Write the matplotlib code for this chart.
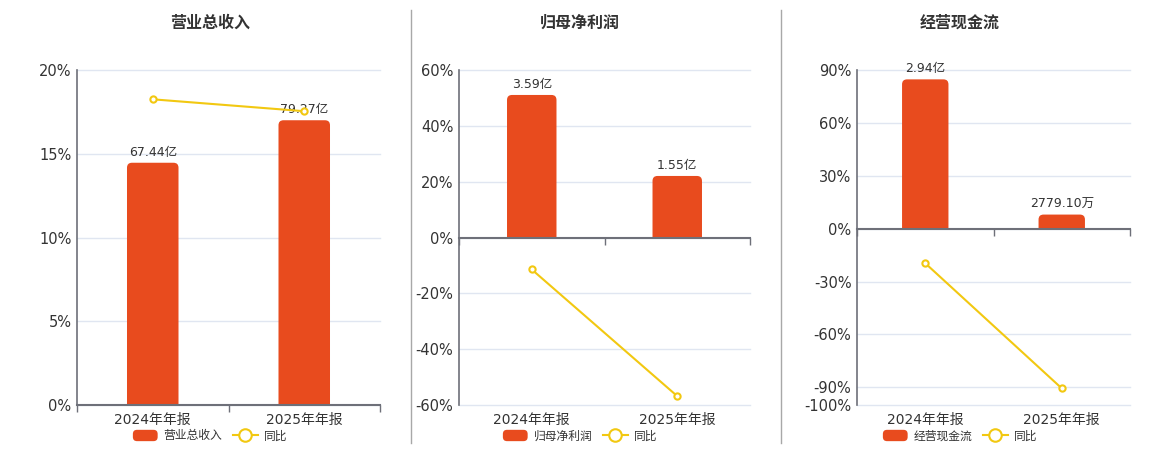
import matplotlib
matplotlib.use("Agg")
import matplotlib.pyplot as plt
from matplotlib.patches import FancyBboxPatch, Rectangle, Patch
from matplotlib.lines import Line2D
from matplotlib.legend_handler import HandlerPatch
import numpy as np

plt.rcParams["font.family"] = ["DejaVu Sans", "Noto Sans CJK SC"]

# ---- data ----
periods = ["2024年年报", "2025年年报"]
titles = ["营业总收入", "归母净利润", "经营现金流"]
bar_values = [[67.44, 79.27], [3.59, 1.55], [2.94, 0.2779]]  # 亿
bar_labels = [["67.44亿", "79.27亿"], ["3.59亿", "1.55亿"], ["2.94亿", "2779.10万"]]
yoy = [[18.25, 17.54], [-11.45, -56.82], [-19.6, -90.55]]  # %
yoy_label = "同比"
y_ticks = [
    [0, 5, 10, 15, 20],
    [-60, -40, -20, 0, 20, 40, 60],
    [-100, -90, -60, -30, 0, 30, 60, 90],
]

# ---- style ----
BAR_COLOR = "#E84B1E"
LINE_COLOR = "#F2C811"
TEXT = "#333333"
AXIS = "#6E7079"
GRID = "#E0E6F1"
W, H = 1160, 450
axes_px = [(77, 380), (459, 750), (857, 1130)]  # left/right in pixels
top_px, bottom_px = 70, 405
centers_px = [210, 580, 960]
bar_fill = [0.85, 0.851, 0.941]  # fraction of positive axis the tallest bar reaches
bar_width = 0.34
radius_px = 5

fig = plt.figure(figsize=(W / 100, H / 100), dpi=100)


class RoundPatchHandler(HandlerPatch):
    def create_artists(self, legend, orig_handle, xdescent, ydescent,
                       width, height, fontsize, trans):
        p = FancyBboxPatch((-xdescent, -ydescent), width, height,
                           boxstyle="round,pad=0,rounding_size=3",
                           facecolor=orig_handle.get_facecolor(),
                           edgecolor="none", transform=trans)
        return [p]


def rounded_bars(ax, rects, ax_w_px, ax_h_px):
    x0, x1 = ax.get_xlim()
    y0, y1 = ax.get_ylim()
    xpp = (x1 - x0) / ax_w_px
    ypp = (y1 - y0) / ax_h_px
    for r in rects:
        x, y, w, h = r.get_x(), r.get_y(), r.get_width(), r.get_height()
        r.set_visible(False)
        ext = radius_px * ypp
        p = FancyBboxPatch((x, y - ext), w, h + ext,
                           boxstyle=f"round,pad=0,rounding_size={radius_px * xpp}",
                           mutation_aspect=ypp / xpp,
                           facecolor=BAR_COLOR, edgecolor="none", zorder=2)
        ax.add_patch(p)
        clip = Rectangle((x - w, 0), 3 * w, y1 * 2, transform=ax.transData)
        p.set_clip_path(clip)


for i in range(3):
    lpx, rpx = axes_px[i]
    rect = [lpx / W, 1 - bottom_px / H, (rpx - lpx) / W, (bottom_px - top_px) / H]
    ax = fig.add_axes(rect)
    ticks = y_ticks[i]
    ymin, ymax = ticks[0], ticks[-1]
    x = np.arange(len(periods))

    # percent axis with grid
    ax.set_xlim(-0.5, len(periods) - 0.5)
    ax.set_ylim(ymin, ymax)
    ax.set_yticks(ticks)
    ax.set_yticklabels([f"{t}%" for t in ticks])
    ax.grid(axis="y", color=GRID, linewidth=1, clip_on=False)
    ax.set_axisbelow(True)
    ax.set_xticks(x)
    ax.set_xticklabels(periods)
    ax.tick_params(axis="x", length=0, pad=6, labelsize=10, labelcolor=TEXT)
    ax.tick_params(axis="y", length=0, pad=4, labelsize=10.5, labelcolor=TEXT)
    for s in ["top", "right", "bottom"]:
        ax.spines[s].set_visible(False)
    ax.spines["left"].set_color(AXIS)
    ax.spines["left"].set_linewidth(1.2)

    # bars on hidden twin axis, zero aligned
    axb = ax.twinx()
    btop = max(bar_values[i]) / bar_fill[i]
    axb.set_ylim(ymin / ymax * btop, btop)
    axb.axis("off")
    rects = axb.bar(x, bar_values[i], width=bar_width, color=BAR_COLOR)
    rounded_bars(axb, rects, rpx - lpx, bottom_px - top_px)
    for xi, v, lab in zip(x, bar_values[i], bar_labels[i]):
        axb.annotate(lab, (xi, v), xytext=(0, 3), textcoords="offset points",
                     ha="center", va="bottom", fontsize=9, color=TEXT)

    # yoy line on top
    axl = ax.twinx()
    axl.set_ylim(ymin, ymax)
    for s in ["top", "right", "left", "bottom"]:
        axl.spines[s].set_visible(False)
    axl.set_yticks([])
    axl.plot(x, yoy[i], color=LINE_COLOR, linewidth=1.5, marker="o", markersize=4.5,
             markerfacecolor="white", markeredgecolor=LINE_COLOR, markeredgewidth=1.5,
             zorder=5)
    # zero axis line with category boundary ticks
    sec = axl.secondary_xaxis(0, transform=axl.transData)
    sec.set_xticks(np.arange(len(periods) + 1) - 0.5)
    sec.set_xticklabels([])
    sec.tick_params(length=5, width=1, color=AXIS, direction="out")
    for s in sec.spines.values():
        s.set_color(AXIS)
        s.set_linewidth(1.5)

    # title and legend centered over the panel block
    cx = centers_px[i] / W
    fig.text(cx, 1 - 23 / H, titles[i], ha="center", va="center",
             fontsize=11.5, fontweight="bold", color=TEXT)
    handles = [
        Patch(facecolor=BAR_COLOR, edgecolor="none", label=titles[i]),
        Line2D([], [], color=LINE_COLOR, linewidth=1.5, marker="o", markersize=9,
               markerfacecolor="white", markeredgecolor=LINE_COLOR,
               markeredgewidth=1.5, label=yoy_label),
    ]
    fig.legend(handles=handles, loc="center", bbox_to_anchor=(cx, 1 - 436 / H),
               ncol=2, frameon=False, fontsize=8.5, handlelength=2.1,
               handleheight=1.1, handletextpad=0.5, columnspacing=0.9,
               labelcolor=TEXT, borderpad=0,
               handler_map={Patch: RoundPatchHandler()})

# panel separators
for sx in [410.5, 781]:
    fig.add_artist(Line2D([sx / W, sx / W], [1 - 443 / H, 1 - 10 / H],
                          color="#A8A8A8", linewidth=1, transform=fig.transFigure))

fig.savefig("out.png", dpi=100)
